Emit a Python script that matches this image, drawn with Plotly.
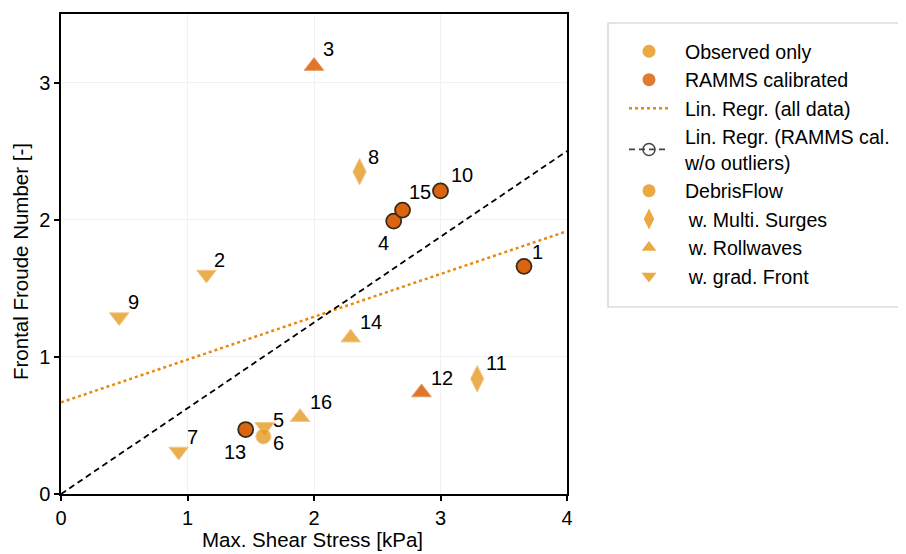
import numpy as np
import plotly.graph_objects as go

# ---- data ----
event_ids = ["1", "2", "3", "4", "5", "6", "7", "8", "9", "10", "11", "12", "13", "14", "15", "16"]
shear_kpa = [3.66, 1.15, 2.00, 2.63, 1.61, 1.60, 0.93, 2.36, 0.46, 3.00, 3.29, 2.85, 1.46, 2.29, 2.70, 1.89]
froude = [1.66, 1.60, 3.12, 1.99, 0.49, 0.42, 0.31, 2.35, 1.29, 2.21, 0.84, 0.74, 0.47, 1.14, 2.07, 0.56]
flow_type = ["plain", "front", "roll", "plain", "front", "plain", "front", "surge",
             "front", "plain", "surge", "roll", "plain", "roll", "plain", "roll"]
ramms_calibrated = [True, False, True, True, False, False, False, False,
                    False, True, False, True, True, False, True, False]
outlier = [False, False, True, False, False, False, False, False,
           False, False, False, True, False, False, False, False]

x_ticks = [0, 1, 2, 3, 4]
y_ticks = [0, 1, 2, 3]
x_title = "Max. Shear Stress [kPa]"
y_title = "Frontal Froude Number [-]"

# ---- styles ----
FONT = "Liberation Sans, Arial, sans-serif"
LIGHT = "#E69A22"
LIGHT_EDGE = "#F0BE6A"
DARK = "#DB6410"
DARK_EDGE = "#E88A4A"
EDGE = "#3A2A18"
REG_ALL = "#E8880E"
symbol_map = {"plain": "circle", "surge": "diamond-tall", "roll": "triangle-up", "front": "triangle-down"}
size_map = {"plain": 15, "surge": 19, "roll": 17, "front": 17}
NB = "\u00a0\u00a0"

# label offsets (px) relative to each marker: dx, dy (up positive)
label_offsets = {
    "1": (14, 14), "2": (13, 15), "3": (14, 17), "4": (-10, -22), "5": (14, 7),
    "6": (15, -7), "7": (14, 14), "8": (14, 15), "9": (14, 15), "10": (21, 16),
    "11": (19, 16), "12": (20, 15), "13": (-11, -22), "14": (20, 16), "15": (17, 18),
    "16": (21, 15),
}

x = np.array(shear_kpa)
y = np.array(froude)
cal = np.array(ramms_calibrated)
out = np.array(outlier)

# regression of all data
slope_all, icpt_all = np.polyfit(x, y, 1)
# regression through origin of RAMMS calibrated without outliers
sel = cal & ~out
slope_cal = float(np.sum(x[sel] * y[sel]) / np.sum(x[sel] ** 2))

xl = np.array([x_ticks[0], x_ticks[-1]], dtype=float)

fig = go.Figure()

fig.add_trace(go.Scatter(
    x=xl, y=icpt_all + slope_all * xl, mode="lines",
    line=dict(color=REG_ALL, width=2.5, dash="dot"), showlegend=False, hoverinfo="skip"))
fig.add_trace(go.Scatter(
    x=xl, y=slope_cal * xl, mode="lines",
    line=dict(color="black", width=1.8, dash="6px,4px"), showlegend=False, hoverinfo="skip"))

colors = [DARK if c else LIGHT for c in ramms_calibrated]
edge_colors = [EDGE if (c and not o) else (DARK_EDGE if c else LIGHT_EDGE)
               for c, o in zip(ramms_calibrated, outlier)]
edge_widths = [1.8 if (c and not o) else 1 for c, o in zip(ramms_calibrated, outlier)]
opac = [1.0 if (c and not o) else (0.88 if c else 0.8) for c, o in zip(ramms_calibrated, outlier)]

fig.add_trace(go.Scatter(
    x=shear_kpa, y=froude, mode="markers", showlegend=False,
    text=event_ids,
    marker=dict(symbol=[symbol_map[t] for t in flow_type],
                size=[size_map[t] for t in flow_type],
                color=colors, opacity=opac,
                line=dict(color=edge_colors, width=edge_widths))))

# legend-only entries
def leg(name, **kw):
    fig.add_trace(go.Scatter(x=[None], y=[None], name=name, **kw))

LM = dict(opacity=0.85)
leg(NB + "Observed only", mode="markers", marker=dict(symbol="circle", size=13, color=LIGHT, **LM))
leg(NB + "RAMMS calibrated", mode="markers", marker=dict(symbol="circle", size=13, color=DARK, **LM))
leg(NB + "Lin. Regr. (all data)", mode="lines", line=dict(color=REG_ALL, width=2.5, dash="dot"))
leg(NB + "Lin. Regr. (RAMMS cal.<br>" + NB + "w/o outliers)", mode="lines+markers",
    line=dict(color="#444", width=1.8, dash="6px,4px"),
    marker=dict(symbol="circle-open", size=12, color="#444", line=dict(width=1.5)))
leg(NB + "DebrisFlow", mode="markers", marker=dict(symbol="circle", size=13, color=LIGHT, **LM))
leg(NB + "\u2009w. Multi. Surges", mode="markers", marker=dict(symbol="diamond-tall", size=15, color=LIGHT, **LM))
leg(NB + "\u2009w. Rollwaves", mode="markers", marker=dict(symbol="triangle-up", size=13, color=LIGHT, **LM))
leg(NB + "\u2009w. grad. Front", mode="markers", marker=dict(symbol="triangle-down", size=13, color=LIGHT, **LM))

for i, lab in enumerate(event_ids):
    dx, dy = label_offsets[lab]
    fig.add_annotation(x=shear_kpa[i], y=froude[i], text=lab, showarrow=False,
                       xanchor="center", yanchor="middle", xshift=dx, yshift=dy,
                       font=dict(size=20, color="black", family=FONT))

axis_common = dict(showline=True, linecolor="black", linewidth=1.5, mirror=True,
                   ticks="outside", ticklen=5, tickwidth=1.5, tickcolor="black",
                   showgrid=True, gridcolor="#F1F1F1", gridwidth=1, zeroline=False,
                   automargin=False,
                   tickfont=dict(size=20, family=FONT, color="black"))

fig.update_xaxes(range=[0, 4], tickvals=x_ticks, **axis_common)
fig.update_yaxes(range=[0, 3.5], tickvals=y_ticks, **axis_common)

# page has an 8px body margin: figure geometry in page pixels, converted to figure pixels
OFF = 8
W, H = 906 - OFF, 554 - OFF
L, R, T, B = 61 - OFF, 567 - OFF, 14 - OFF, 494 - OFF
def px(v):
    return (v - OFF - L) / (R - L)
def py(v):
    return (B - (v - OFF)) / (B - T)

# axis titles
fig.add_annotation(xref="paper", yref="paper", x=px(312.5), y=py(539), text=x_title,
                   showarrow=False, xanchor="center", yanchor="middle",
                   font=dict(size=20.5, family=FONT, color="black"))
fig.add_annotation(xref="paper", yref="paper", x=px(21), y=py(262), text=y_title,
                   showarrow=False, xanchor="center", yanchor="middle", textangle=-90,
                   font=dict(size=20.5, family=FONT, color="black"))

fig.add_shape(type="rect", xref="paper", yref="paper",
              x0=px(608), x1=px(905), y0=py(307), y1=py(23),
              line=dict(color="#CCCCCC", width=1.2), fillcolor="rgba(0,0,0,0)")

fig.update_layout(
    width=W, height=H,
    margin=dict(l=L, r=W - R, t=T, b=H - B),
    plot_bgcolor="white", paper_bgcolor="white",
    font=dict(family=FONT, size=20, color="black"),
    legend=dict(x=px(624), y=py(32), xanchor="left", yanchor="top",
                borderwidth=0, bgcolor="rgba(0,0,0,0)",
                font=dict(size=19.6, family=FONT, color="black"),
                itemwidth=40),
)

fig.write_html("out.html")
